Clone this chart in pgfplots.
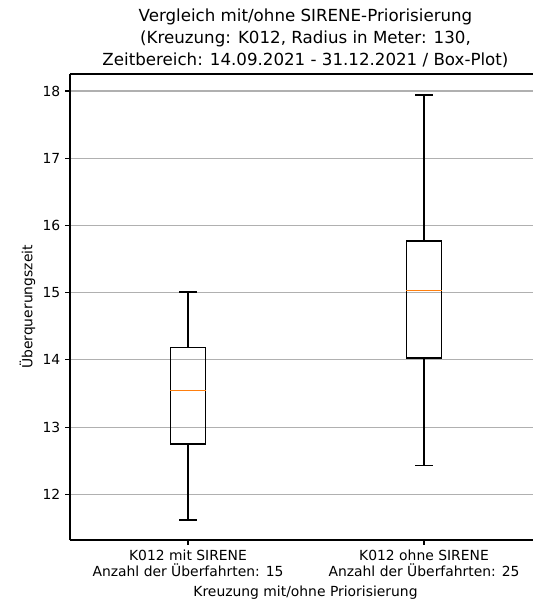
\documentclass[border=0pt]{standalone}
\usepackage{fontspec}
\setmainfont{DejaVu Sans}
\usepackage{pgfplots}
\pgfplotsset{compat=1.18}
\definecolor{mplorange}{HTML}{FF7F0E}
\definecolor{gridgray}{HTML}{B0B0B0}
\begin{document}
\begin{tikzpicture}
\fill[white] (-50.4pt,-43.92pt) rectangle (333.36pt,388.8pt);
\begin{axis}[
  at={(0,0)}, anchor=south west,
  scale only axis, width=333.36pt, height=335.52pt,
  xmin=0.5, xmax=2.4619, ymin=11.32, ymax=18.253,
  axis x line=box, axis y line=left,
  xtick={1,2},
  xticklabels={{K012 mit SIRENE\\Anzahl der Überfahrten: 15},{K012 ohne SIRENE\\Anzahl der Überfahrten: 25}},
  ytick={12,13,14,15,16,17,18},
  /pgf/number format/assume math mode=true,
  tick label style={font=\fontsize{10}{12}\selectfont},
  x tick label style={align=center},
  tick align=outside, xtick pos=bottom, ytick pos=left,
  major tick length=3.5pt,
  tick style={black, line width=0.8pt},
  axis line style={black, line width=0.8pt, -},
  ymajorgrids, xmajorgrids=false,
  grid style={gridgray, line width=0.8pt},
  title={Vergleich mit/ohne SIRENE-Priorisierung\\(Kreuzung: K012, Radius in Meter: 130,\\Zeitbereich: 14.09.2021 - 31.12.2021 / Box-Plot)},
  title style={at={(0.5086,1)}, anchor=south, align=center, yshift=-5pt, font=\fontsize{12}{15.8}\selectfont},
  xlabel={Kreuzung mit/ohne Priorisierung},
  ylabel={Überquerungszeit},
  every axis x label/.style={at={(axis description cs:0.5086,0)}, anchor=center, yshift=-38.2pt, font=\fontsize{10}{12}\selectfont},
  every axis y label/.style={at={([xshift=-30.6pt]axis description cs:0,0.5)}, rotate=90, anchor=center, font=\fontsize{10}{12}\selectfont},
]
% Box 1: K012 mit SIRENE (whiskers 11.62/15.01, quartiles 12.75/14.18, median 13.54)
\addplot[black, line width=1pt, mark=none] coordinates {(0.925,12.75) (1.075,12.75) (1.075,14.18) (0.925,14.18) (0.925,12.75)};
\addplot[black, line width=1pt, mark=none] coordinates {(1,14.18) (1,15.01)};
\addplot[black, line width=1pt, mark=none] coordinates {(1,12.75) (1,11.62)};
\addplot[black, line width=1pt, mark=none] coordinates {(0.9625,15.01) (1.0375,15.01)};
\addplot[black, line width=1pt, mark=none] coordinates {(0.9625,11.62) (1.0375,11.62)};
\addplot[mplorange, line width=1pt, mark=none] coordinates {(0.925,13.54) (1.075,13.54)};
% Box 2: K012 ohne SIRENE (whiskers 12.43/17.94, quartiles 14.03/15.77, median 15.03)
\addplot[black, line width=1pt, mark=none] coordinates {(1.925,14.03) (2.075,14.03) (2.075,15.77) (1.925,15.77) (1.925,14.03)};
\addplot[black, line width=1pt, mark=none] coordinates {(2,15.77) (2,17.94)};
\addplot[black, line width=1pt, mark=none] coordinates {(2,14.03) (2,12.43)};
\addplot[black, line width=1pt, mark=none] coordinates {(1.9625,17.94) (2.0375,17.94)};
\addplot[black, line width=1pt, mark=none] coordinates {(1.9625,12.43) (2.0375,12.43)};
\addplot[mplorange, line width=1pt, mark=none] coordinates {(1.925,15.03) (2.075,15.03)};
\end{axis}
\pgfresetboundingbox
\useasboundingbox (-50.4pt,-43.92pt) rectangle (333.36pt,388.8pt);
\end{tikzpicture}
\end{document}
